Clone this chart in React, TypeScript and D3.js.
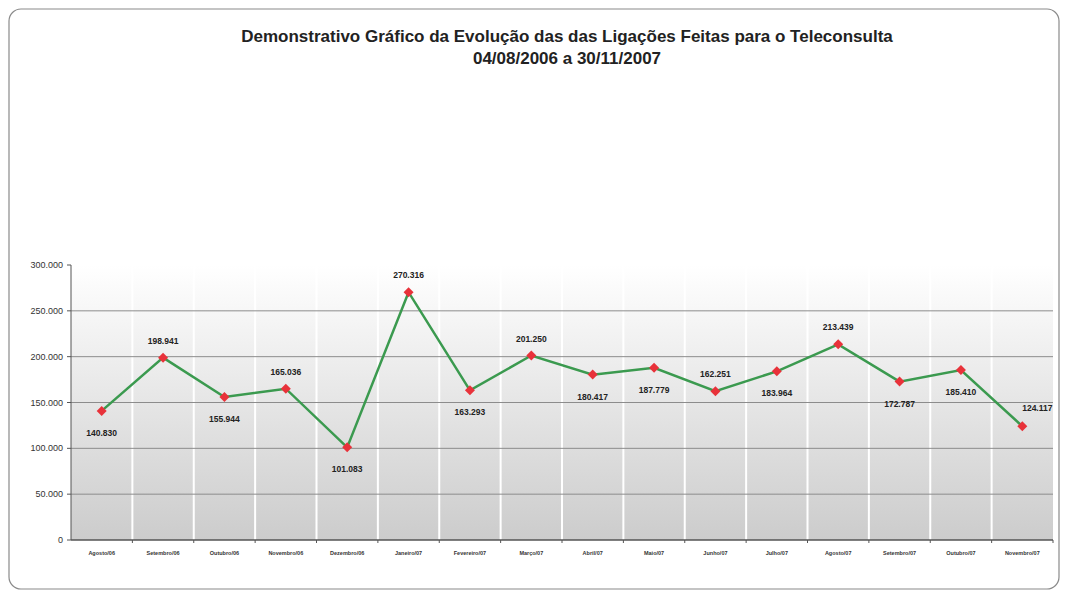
import * as d3 from "d3";

const WIDTH = 1066;
const HEIGHT = 593;
const MARGIN = { top: 265, right: 13, bottom: 53, left: 71 };

const TITLE = "Demonstrativo Gráfico da Evolução das das Ligações Feitas para o Teleconsulta";
const SUBTITLE = "04/08/2006 a 30/11/2007";

const months = [
  "Agosto/06", "Setembro/06", "Outubro/06", "Novembro/06", "Dezembro/06", "Janeiro/07",
  "Fevereiro/07", "Março/07", "Abril/07", "Maio/07", "Junho/07", "Julho/07",
  "Agosto/07", "Setembro/07", "Outubro/07", "Novembro/07",
];
const calls = [
  140830, 198941, 155944, 165036, 101083, 270316, 163293, 201250,
  180417, 187779, 162251, 183964, 213439, 172787, 185410, 124117,
];
// where each value label sits relative to its point
const labelSide = [
  "below", "above", "below", "above", "below", "above", "below", "above",
  "below", "below", "above", "below", "above", "below", "below", "right",
];
const yTicks = [0, 50000, 100000, 150000, 200000, 250000, 300000];

const fmt = (v: number) => d3.format(",")(v).replace(/,/g, ".");

export default function App() {
  const boundsWidth = WIDTH - MARGIN.left - MARGIN.right;
  const boundsHeight = HEIGHT - MARGIN.top - MARGIN.bottom;

  const xScale = d3.scaleBand().domain(months).range([0, boundsWidth]);
  const yScale = d3.scaleLinear().domain([0, 300000]).range([boundsHeight, 0]);
  const cx = (m: string) => (xScale(m) ?? 0) + xScale.bandwidth() / 2;

  const line = d3
    .line<number>()
    .x((_, i) => cx(months[i]))
    .y((d) => yScale(d));

  // square turned 45deg -> even diamond like Excel's marker
  const diamond = d3.symbol().type(d3.symbolSquare).size(50)() ?? "";

  return (
    <div style={{ position: "absolute", left: 0, top: 0 }}>
      <svg width={WIDTH} height={HEIGHT} style={{ display: "block" }}>
        <defs>
          <linearGradient id="plotBg" x1="0" y1="0" x2="0" y2="1">
            <stop offset="0%" stopColor="#ffffff" />
            <stop offset="18%" stopColor="#f6f6f6" />
            <stop offset="100%" stopColor="#cccccc" />
          </linearGradient>
        </defs>
        <rect width={WIDTH} height={HEIGHT} fill="#ffffff" />
        <rect x={9} y={9} width={1050} height={580} rx={12} fill="none" stroke="#8a8a8a" strokeWidth={1.2} />

        <g fontFamily="'Liberation Sans Narrow', 'Arial Narrow', 'Liberation Sans', Arial, sans-serif" fontWeight="bold" fill="#222" textAnchor="middle">
          <text x={567} y={42} fontSize={17}>{TITLE}</text>
          <text x={567} y={64} fontSize={17}>{SUBTITLE}</text>
        </g>

        <g transform={`translate(${MARGIN.left},${MARGIN.top})`} fontFamily="'Liberation Sans', Arial, sans-serif">
          <rect x={0} y={0} width={boundsWidth} height={boundsHeight} fill="url(#plotBg)" />

          {/* vertical white separators */}
          {months.slice(1).map((m) => (
            <line key={m} x1={xScale(m)} x2={xScale(m)} y1={0} y2={boundsHeight} stroke="#ffffff" strokeWidth={2} />
          ))}

          {/* horizontal gridlines */}
          {yTicks.slice(1, -1).map((t) => (
            <line key={t} x1={0} x2={boundsWidth} y1={yScale(t)} y2={yScale(t)} stroke="#8c8c8c" strokeWidth={1} />
          ))}

          {/* y axis */}
          <line x1={0} x2={0} y1={0} y2={boundsHeight} stroke="#555" strokeWidth={1} />
          {yTicks.map((t) => (
            <g key={t}>
              <line x1={-4} x2={0} y1={yScale(t)} y2={yScale(t)} stroke="#555" />
              <text x={-8} y={yScale(t)} dy="0.35em" textAnchor="end" fontSize={9} fill="#333">
                {fmt(t)}
              </text>
            </g>
          ))}

          {/* x axis */}
          <line x1={0} x2={boundsWidth} y1={boundsHeight} y2={boundsHeight} stroke="#555" strokeWidth={1.5} />
          {months.map((m) => (
            <g key={m}>
              <line x1={(xScale(m) ?? 0) + xScale.bandwidth()} x2={(xScale(m) ?? 0) + xScale.bandwidth()} y1={boundsHeight} y2={boundsHeight + 3} stroke="#555" />
              <text x={cx(m)} y={boundsHeight + 15} textAnchor="middle" fontSize={5.5} fontWeight="bold" fill="#333">
                {m}
              </text>
            </g>
          ))}

          <path d={line(calls) ?? ""} fill="none" stroke="#3b9a4f" strokeWidth={2.5} />

          {calls.map((v, i) => {
            const x = cx(months[i]);
            const y = yScale(v);
            const side = labelSide[i];
            const lx = side === "right" ? x + 15 : x;
            const ly = side === "above" ? y - 14 : side === "below" ? y + 25 : y - 15;
            return (
              <g key={months[i]}>
                <path d={diamond} transform={`translate(${x},${y}) rotate(45)`} fill="#e8323a" />
                <text x={lx} y={ly} textAnchor="middle" fontSize={8.5} fontWeight="bold" fill="#222">
                  {fmt(v)}
                </text>
              </g>
            );
          })}
        </g>
      </svg>
    </div>
  );
}
